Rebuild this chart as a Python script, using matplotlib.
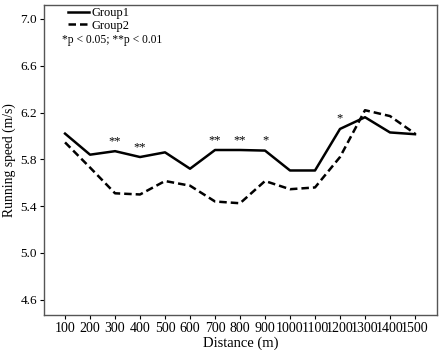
import matplotlib.pyplot as plt
import numpy as np

plt.rcParams['font.family'] = ['Liberation Serif', 'DejaVu Serif']

distance = [100, 200, 300, 400, 500, 600, 700, 800, 900, 1000, 1100, 1200, 1300, 1400, 1500]
group1 = [6.02, 5.84, 5.87, 5.82, 5.86, 5.72, 5.88, 5.88, 5.875, 5.705, 5.705, 6.06, 6.16, 6.03, 6.015]
group2 = [5.945, 5.73, 5.51, 5.50, 5.615, 5.575, 5.44, 5.425, 5.615, 5.545, 5.56, 5.82, 6.22, 6.17, 6.02]
signif = {300: '**', 400: '**', 700: '**', 800: '**', 900: '*', 1200: '*'}
yticks = [4.6, 5.0, 5.4, 5.8, 6.2, 6.6, 7.0]

fig = plt.figure(figsize=(4.45, 3.5), dpi=100)
ax = fig.add_axes([0.099, 0.1, 0.883, 0.886])

ax.plot(distance, group1, color='black', lw=1.8, label='Group1')
ax.plot(distance, group2, color='black', lw=1.8, ls=(0, (3, 1.6)), label='Group2')

for i, d in enumerate(distance):
    if d in signif:
        ax.annotate(signif[d], (d, group1[i]), xytext=(0, 3), textcoords='offset points',
                    ha='center', va='bottom', fontsize=9)

ax.set_xlim(16, 1588)
ax.set_ylim(4.47, 7.12)
ax.set_xticks(distance)
ax.set_xticklabels([str(d) for d in distance], fontsize=10)
ax.set_yticks(yticks)
ax.set_yticklabels(['%.1f' % v for v in yticks], fontsize=9.5)
ax.tick_params(direction='out', length=3, width=0.8, pad=2)
for s in ax.spines.values():
    s.set_color('#555555')
    s.set_linewidth(1.0)

ax.set_xlabel('Distance (m)', fontsize=10.5, labelpad=1)
ax.set_ylabel('Running speed (m/s)', fontsize=9.8, labelpad=3)

ax.legend(loc='upper left', frameon=False, fontsize=9, handlelength=1.7,
          handletextpad=0.2, borderaxespad=0.0, borderpad=0.1, labelspacing=0.05,
          bbox_to_anchor=(0.057, 0.997))
ax.text(0.045, 0.888, '*p < 0.05; **p < 0.01', transform=ax.transAxes, fontsize=8.3,
        va='center', ha='left')

fig.savefig('out.png', dpi=100)
